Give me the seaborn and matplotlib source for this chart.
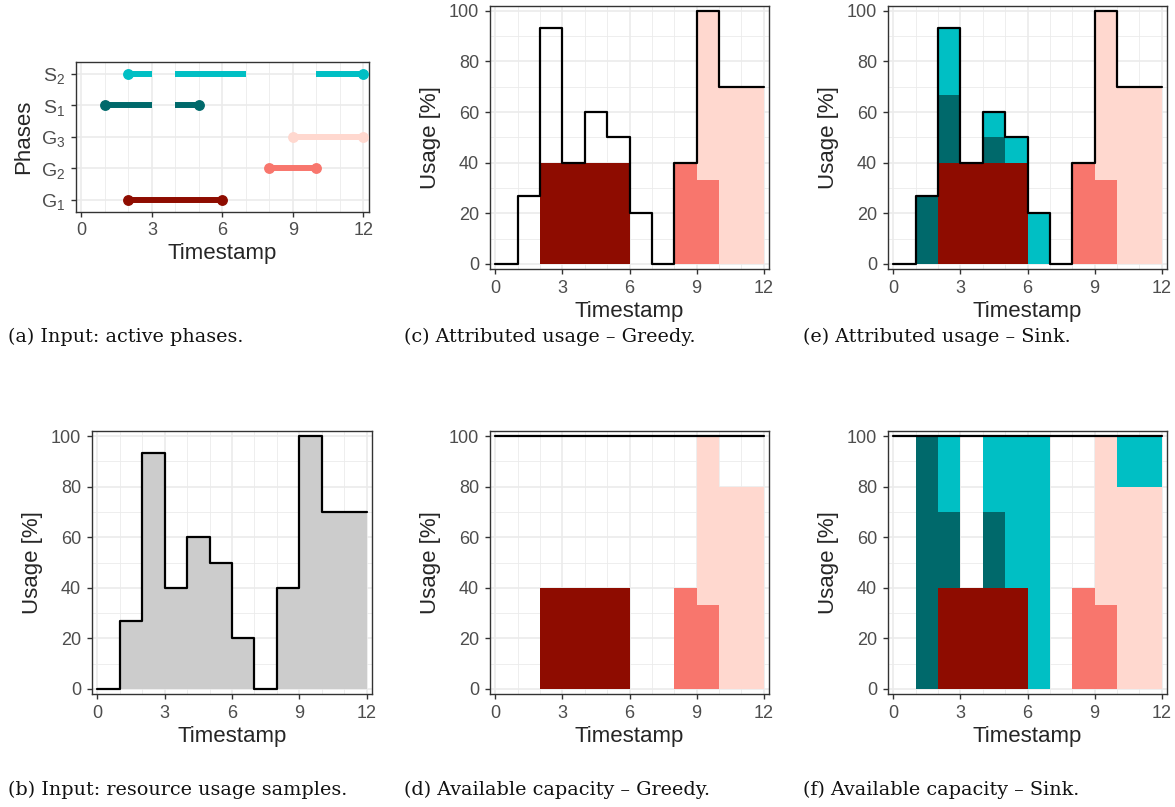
import numpy as np
import pandas as pd
import matplotlib
matplotlib.use("Agg")
import matplotlib.pyplot as plt
import seaborn as sns

# ---- data -------------------------------------------------------------
timestamps = list(range(12))
usage = [0, 26.67, 93.33, 40, 60, 50, 20, 0, 40, 100, 70, 70]

phase_labels = ["G$_1$", "G$_2$", "G$_3$", "S$_1$", "S$_2$"]
phase_names = ["G1", "G2", "G3", "S1", "S2"]
# active intervals of each phase (start, end)
phase_intervals = {
    "G1": [(2, 6)],
    "G2": [(8, 10)],
    "G3": [(9, 12)],
    "S1": [(1, 3), (4, 5)],
    "S2": [(2, 3), (4, 7), (10, 12)],
}

# attributed usage per timestamp, Greedy
greedy_g1 = [0, 0, 40, 40, 40, 40, 0, 0, 0, 0, 0, 0]
greedy_g2 = [0, 0, 0, 0, 0, 0, 0, 0, 40, 33.33, 0, 0]
greedy_g3 = [0, 0, 0, 0, 0, 0, 0, 0, 0, 66.67, 70, 70]

# attributed usage per timestamp, Sink
sink_g1 = [0, 0, 40, 40, 40, 40, 0, 0, 0, 0, 0, 0]
sink_g2 = [0, 0, 0, 0, 0, 0, 0, 0, 40, 33.33, 0, 0]
sink_g3 = [0, 0, 0, 0, 0, 0, 0, 0, 0, 66.67, 70, 70]
sink_s1 = [0, 26.67, 26.67, 0, 10, 0, 0, 0, 0, 0, 0, 0]
sink_s2 = [0, 0, 26.67, 0, 10, 10, 20, 0, 0, 0, 0, 0]

# available capacity per timestamp, Greedy
cap_greedy_g1 = [0, 0, 40, 40, 40, 40, 0, 0, 0, 0, 0, 0]
cap_greedy_g2 = [0, 0, 0, 0, 0, 0, 0, 0, 40, 33.33, 0, 0]
cap_greedy_g3 = [0, 0, 0, 0, 0, 0, 0, 0, 0, 66.67, 80, 80]

# available capacity per timestamp, Sink
cap_sink_g1 = [0, 0, 40, 40, 40, 40, 0, 0, 0, 0, 0, 0]
cap_sink_g2 = [0, 0, 0, 0, 0, 0, 0, 0, 40, 33.33, 0, 0]
cap_sink_g3 = [0, 0, 0, 0, 0, 0, 0, 0, 0, 66.67, 80, 80]
cap_sink_s1 = [0, 100, 30, 0, 30, 0, 0, 0, 0, 0, 0, 0]
cap_sink_s2 = [0, 0, 30, 0, 30, 60, 100, 0, 0, 0, 20, 20]

capacity = 100

x_ticks = [0, 3, 6, 9, 12]
y_ticks = [0, 20, 40, 60, 80, 100]

colors = {
    "G1": "#8E0C00",
    "G2": "#F8766D",
    "G3": "#FFD8CF",
    "S1": "#00696B",
    "S2": "#00BFC4",
}

captions = [
    "(a) Input: active phases.",
    "(b) Input: resource usage samples.",
    "(c) Attributed usage \u2013 Greedy.",
    "(d) Available capacity \u2013 Greedy.",
    "(e) Attributed usage \u2013 Sink.",
    "(f) Available capacity \u2013 Sink.",
]

# ---- style ------------------------------------------------------------
sns.set_theme(style="white")
plt.rcParams["font.family"] = ["Liberation Sans", "DejaVu Sans"]
plt.rcParams["mathtext.fontset"] = "custom"
plt.rcParams["mathtext.rm"] = "Liberation Sans"
plt.rcParams["mathtext.it"] = "Liberation Sans:italic"

TICK_COLOR = "#4D4D4D"
BORDER = "#333333"
GRID = "#EBEBEB"

fig = plt.figure(figsize=(11.75, 8.07), dpi=100)
W, H = 1175, 807


def add_axes(left, top, right, bottom):
    return fig.add_axes([left / W, 1 - bottom / H, (right - left) / W, (bottom - top) / H])


def style_axes(ax, ylabel, yticks=True):
    ax.set_xlim(-0.24, 12.24)
    ax.set_xticks(x_ticks)
    ax.set_xticks(range(13), minor=True)
    ax.grid(which="major", color=GRID, linewidth=1.2, zorder=0)
    ax.grid(which="minor", color=GRID, linewidth=0.6, zorder=0)
    ax.set_axisbelow(True)
    for s in ax.spines.values():
        s.set_color(BORDER)
        s.set_linewidth(1.0)
    ax.tick_params(axis="both", which="major", length=3.5, width=1.0, color=BORDER,
                   labelsize=13, labelcolor=TICK_COLOR, pad=4.5, left=True, bottom=True)
    ax.tick_params(axis="both", which="minor", length=0)
    ax.set_xlabel("Timestamp", fontsize=16, labelpad=3)
    ax.set_ylabel(ylabel, fontsize=16, labelpad=5.5)
    if yticks:
        ax.set_ylim(-2, 102)
        ax.set_yticks(y_ticks)
        ax.set_yticks(range(10, 100, 20), minor=True)


def stacked(ax, layers):
    bottom = np.zeros(len(timestamps))
    for key, vals in layers:
        vals = np.asarray(vals, dtype=float)
        ax.bar(timestamps, vals, width=1.0, bottom=bottom, align="edge",
               color=colors[key], linewidth=0, zorder=2)
        bottom = bottom + vals


def usage_line(ax, values):
    df = pd.DataFrame({"t": timestamps + [12], "u": list(values) + [values[-1]]})
    sns.lineplot(data=df, x="t", y="u", drawstyle="steps-post", color="black",
                 linewidth=1.6, ax=ax, zorder=5)


# (a) active phases
ax_a = add_axes(75.7, 61.7, 369, 211.7)
for i, name in enumerate(phase_names):
    segs = phase_intervals[name]
    for s, e in segs:
        seg = pd.DataFrame({"t": [s, e], "p": [i, i]})
        sns.lineplot(data=seg, x="t", y="p", color=colors[name], linewidth=4.3,
                     solid_capstyle="butt", ax=ax_a, zorder=3)
    ax_a.plot([segs[0][0], segs[-1][1]], [i, i], linestyle="none", marker="o",
              markersize=6.8, color=colors[name], zorder=4)
style_axes(ax_a, "Phases", yticks=False)
ax_a.set_ylim(-0.38, 4.38)
ax_a.set_yticks(range(len(phase_labels)))
ax_a.set_yticklabels(phase_labels)
ax_a.tick_params(axis="y", labelsize=14, pad=4)
ax_a.tick_params(axis="x", pad=4)
ax_a.set_ylabel("Phases", fontsize=16, labelpad=5)

# (b) resource usage samples
ax_b = add_axes(92, 431, 372, 694)
ax_b.bar(timestamps, usage, width=1.0, align="edge", color="#CCCCCC", linewidth=0, zorder=2)
usage_line(ax_b, usage)
style_axes(ax_b, "Usage [%]")

# (c) attributed usage, Greedy
ax_c = add_axes(490, 5.7, 769, 269)
stacked(ax_c, [("G1", greedy_g1), ("G2", greedy_g2), ("G3", greedy_g3)])
usage_line(ax_c, usage)
style_axes(ax_c, "Usage [%]")

# (d) available capacity, Greedy
ax_d = add_axes(490, 431, 769, 694)
stacked(ax_d, [("G1", cap_greedy_g1), ("G2", cap_greedy_g2), ("G3", cap_greedy_g3)])
usage_line(ax_d, [capacity] * len(timestamps))
style_axes(ax_d, "Usage [%]")

# (e) attributed usage, Sink
ax_e = add_axes(888, 5.7, 1167, 269)
stacked(ax_e, [("G1", sink_g1), ("G2", sink_g2), ("G3", sink_g3),
               ("S1", sink_s1), ("S2", sink_s2)])
usage_line(ax_e, usage)
style_axes(ax_e, "Usage [%]")

# (f) available capacity, Sink
ax_f = add_axes(888, 431, 1167, 694)
stacked(ax_f, [("G1", cap_sink_g1), ("G2", cap_sink_g2), ("G3", cap_sink_g3),
               ("S1", cap_sink_s1), ("S2", cap_sink_s2)])
usage_line(ax_f, [capacity] * len(timestamps))
style_axes(ax_f, "Usage [%]")

# sub-figure captions
cap_pos = [(8, 337), (8, 790), (404, 337), (404, 790), (803, 337), (803, 790)]
for (cx, cy), text in zip(cap_pos, captions):
    fig.text(cx / W, 1 - cy / H, text, ha="left", va="center", fontsize=13.8,
             family=["DejaVu Serif"], color="#111111")

fig.savefig("out.png", dpi=100)
